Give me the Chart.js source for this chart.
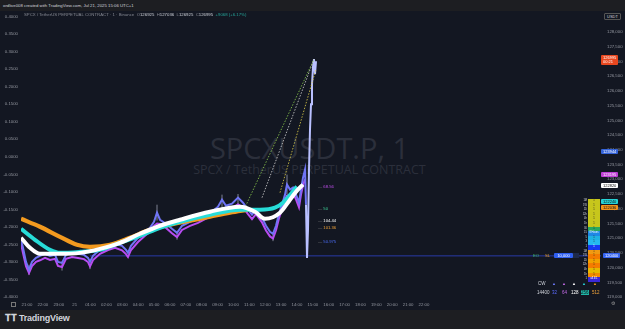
<!DOCTYPE html>
<html><head><meta charset="utf-8">
<script src="https://cdn.jsdelivr.net/npm/chart.js@4.4.1/dist/chart.umd.min.js"></script>
<style>
html,body{margin:0;padding:0;background:#131722;width:625px;height:329px;overflow:hidden;font-family:"Liberation Sans",Arial,sans-serif;}
.abs{position:absolute;white-space:nowrap;}
#top{left:0;top:0;width:625px;height:11px;background:#1d1e22;color:#d1d4dc;font-size:4.3px;line-height:11px;padding-left:3px;box-sizing:border-box;}
#bottom{left:0;top:310px;width:625px;height:19px;background:#1d1e22;}
#logo{left:5px;top:313px;color:#d1d4dc;font-size:9px;font-weight:bold;letter-spacing:-0.2px;}
#wrap{position:absolute;left:0;top:11px;width:625px;height:299px;}
#wm1{left:0;width:625px;top:128px;text-align:center;color:#2b2f3b;font-size:29px;font-family:"Open Sans","Liberation Sans",sans-serif;}
#wm1 span,#wm2 span{position:relative;left:-3px;}
#wm2{left:0;width:625px;top:161px;text-align:center;color:#2b2f3b;font-size:12.5px;font-family:"Open Sans","Liberation Sans",sans-serif;}
#hdr{left:24px;top:12px;color:#868993;font-size:4.3px;line-height:6px;}
#hdr b{color:#d1d4dc;font-weight:normal;}
.box{font-size:4px;line-height:5px;padding:0 2px;border-radius:1px;}
.lbl{font-size:4.2px;line-height:5px;}
.cell{position:absolute;left:588px;width:12px;font-size:2.6px;line-height:5px;color:#111;text-align:center;}
.cl{position:absolute;left:578px;width:9px;font-size:2.6px;line-height:5px;color:#d1d4dc;text-align:right;}
</style></head>
<body>
<div id="top" class="abs">ordlive008 created with TradingView.com, Jul 21, 2025 15:06 UTC+1</div>
<div id="wm1" class="abs"><span>SPCXUSDT.P, 1</span></div>
<div id="wm2" class="abs"><span>SPCX / TetherUS PERPETUAL CONTRACT</span></div>
<div id="wrap"><canvas id="c" width="625" height="299"></canvas></div>
<div id="hdr" class="abs">SPCX / TetherUS PERPETUAL CONTRACT · 1 · Binance &nbsp;O<b>126925</b> &nbsp;H<b>127036</b> &nbsp;L<b>126925</b> &nbsp;C<b>126995</b> &nbsp;<b style="color:#26a69a">+9068 (+6.17%)</b></div>
<div class="abs box" style="left:604px;top:13px;color:#d1d4dc;border:0.5px solid #555;background:#131722;">USDT</div>
<div id="bottom" class="abs"></div>
<div id="logo" class="abs">&#x1D413;&#x1D413; TradingView</div>
<div id="overlay"></div>
<script>
// ---------- data ----------
const timeLabels = ["21:00","22:00","23:00","21","01:00","02:00","03:00","04:00","05:00","06:00","07:00","08:00","09:00",
  "10:00","11:00","12:00","13:00","14:00","15:00","16:00","17:00","18:00","19:00","20:00","21:00","22:00"];
const leftTicks = [0.40,0.35,0.30,0.25,0.20,0.15,0.10,0.05,0.00,-0.05,-0.10,-0.15,-0.20,-0.25,-0.30,-0.35,-0.40];
const rightTicks = [128000,127500,127000,126500,126000,125500,125000,124500,124000,123500,123000,122500,122000,121500,121000,120500,120000,119500,119000];

const orangeX = [0,19,39,56,69,89,109,129,149,169,189,209,227];
const orangeY = [121661,121388,121048,120775,120707,120775,121014,121286,121457,121593,121729,121866,121968];

const cyanX = [0,14,29,39,59,79,99,119,139,159,189,219,239,254,262,271,276];
const cyanY = [121320,120946,120605,120502,120537,120605,120843,121082,121354,121559,121798,121968,121968,122036,122206,122547,122752];

const whiteX = [0,9,19,39,59,79,99,119,139,159,189,219,234,244,259,269,276,282];
const whiteY = [121014,120673,120468,120468,120502,120639,120843,121150,121423,121627,121900,122070,121900,121661,121866,122309,122615,122820];

const priceX = [0,2,5,8,11,15,19,24,29,34,37,41,45,51,57,63,67,69,72,79,87,94,101,105,107,110,117,124,129,133,136,139,145,151,156,161,169,177,184,191,197,201,205,211,217,222,227,231,235,241,245,249,252,255,258,261,264,266,269,272,275,278,280,282,284,285,286,287,288,289,290,291,292,293,294,295];
const priceY = [120946,120673,120196,119923,120196,120332,120400,120468,120400,120434,120196,120162,120434,120502,120468,120434,120332,120196,120400,120605,120741,120809,120741,120605,120502,120741,121014,121218,121354,121559,121866,121627,121491,121320,121184,121423,121559,121661,121798,121900,122070,122309,122104,122172,122377,122206,121968,121798,121968,121695,121423,121218,121150,121423,121832,122138,122479,122820,122650,122718,122479,122206,122650,123058,123331,122138,120332,121286,123331,124694,125546,126228,126807,127080,126568,127012];
const priceLowX = priceX.slice(0, 65);
const priceLowY = [120800,120500,120050,119820,120050,120200,120250,120330,120260,120300,120060,120020,120300,120360,120330,120290,120190,120040,120260,120470,120600,120670,120590,120460,120360,120600,120870,121080,121220,121420,121500,121480,121350,121170,121040,121280,121420,121520,121650,121760,121900,122000,121960,122030,122150,122050,121820,121650,121820,121540,121260,121060,120990,121270,121680,121990,122300,122450,122480,122550,122320,122050,122480,122800,123000];
// candle wicks: [x, low, high]
const wicks = [[8,119750,120100],[41,119900,120200],[69,119950,120250],[136,121600,122138],[156,120950,121250],[201,122000,122479],[217,122100,122500],[266,122500,123160],[252,120900,121200]];

const trendA = {x:[222,293], y:[121900,127080]};
const trendB = {x:[241,293], y:[122377,127080]};
const trendC = {x:[259,295], y:[122547,126739]};
const entryLine = {x:[69,580], y:[120400,120400]};

// ---------- build ----------
const pts = (xs, ys) => xs.map((x,i)=>({x, y: ys[i]}));
const wickPts = [];
wicks.forEach(w => { wickPts.push({x:w[0], y:w[1]}, {x:w[0], y:w[2]}, {x:w[0], y:null}); });
const ctx = document.getElementById('c').getContext('2d');
const fmt = v => v.toLocaleString('en-US');
const spikeStart = priceX.length - 11;

new Chart(ctx, {
  type: 'line',
  data: {
    datasets: [
      {label:'orange', data: pts(orangeX, orangeY), borderColor:'#f39a1f', borderWidth:4.2, pointRadius:0, tension:0.4, cubicInterpolationMode:'monotone', yAxisID:'y', order:3},
      {label:'cyan', data: pts(cyanX, cyanY), borderColor:'#27dcd8', borderWidth:4, pointRadius:0, tension:0.4, cubicInterpolationMode:'monotone', yAxisID:'y', order:2},
      {label:'white', data: pts(whiteX, whiteY), borderColor:'#ffffff', borderWidth:4, pointRadius:0, tension:0.4, cubicInterpolationMode:'monotone', yAxisID:'y', order:1},
      {label:'price', data: pts(priceX, priceY), borderColor:'#6f74f5', borderWidth:2, pointRadius:0, tension:0, yAxisID:'y', order:10,
        segment:{borderColor: c => c.p0DataIndex >= spikeStart ? '#b9c0ff' : undefined}},
      {label:'priceLow', data: pts(priceLowX, priceLowY), borderColor:'#b84cf2', borderWidth:2, pointRadius:0, tension:0, yAxisID:'y', order:11},
      {label:'wicks', data: wickPts, borderColor:'#9aa0b0', borderWidth:0.8, pointRadius:0, spanGaps:false, yAxisID:'y', order:12},
      {label:'tA', data: pts(trendA.x, trendA.y), borderColor:'#8fd14f', borderWidth:0.8, borderDash:[1.5,1.5], pointRadius:0, yAxisID:'y', order:5},
      {label:'tB', data: pts(trendB.x, trendB.y), borderColor:'#d8d8d8', borderWidth:0.8, borderDash:[1.5,1.5], pointRadius:0, yAxisID:'y', order:5},
      {label:'tC', data: pts(trendC.x, trendC.y), borderColor:'#e3d34a', borderWidth:0.8, borderDash:[1.5,1.5], pointRadius:0, yAxisID:'y', order:5},
      {label:'entry', data: pts(entryLine.x, entryLine.y), borderColor:'#2a3aa8', borderWidth:1, pointRadius:0, yAxisID:'y', order:20}
    ]
  },
  options: {
    responsive:false, animation:false, events:[],
    layout:{padding:0},
    plugins:{legend:{display:false}, tooltip:{enabled:false}},
    scales:{
      x:{type:'linear', min:0, max:580, position:'bottom',
        grid:{display:false, drawTicks:false}, border:{display:false},
        afterBuildTicks: s => { s.ticks = timeLabels.map((t,i)=>({value: 6 + i*15.88})); },
        afterFit: s => { s.height = 12; s.paddingLeft = 0; s.paddingRight = 0; },
        ticks:{autoSkip:false, maxRotation:0, padding:4, color:'#9598a1', font:{size:4.3},
          callback:(v,i)=> timeLabels[i]}},
      y:{type:'linear', position:'right', min:118969, max:128716,
        grid:{display:false, drawTicks:false}, border:{display:false},
        afterBuildTicks: s => { s.ticks = rightTicks.map(v=>({value:v})); },
        afterFit: s => { s.width = 24; s.paddingTop = 0; s.paddingBottom = 0; },
        ticks:{autoSkip:false, padding:6, color:'#9598a1', font:{size:4.3}, callback: v => fmt(v)}},
      yl:{type:'linear', position:'left', min:-0.4027, max:0.4158,
        grid:{display:false, drawTicks:false}, border:{display:false},
        afterBuildTicks: s => { s.ticks = leftTicks.map(v=>({value:v})); },
        afterFit: s => { s.width = 21; s.paddingTop = 0; s.paddingBottom = 0; },
        ticks:{autoSkip:false, padding:3, color:'#9598a1', font:{size:4.3}, callback: v => v.toFixed(4)}}
    }
  }
});

// ---------- overlays (labels / table) ----------
const ov = document.getElementById('overlay');
function add(html, style, cls){ const d=document.createElement('div'); d.className='abs '+(cls||''); d.innerHTML=html; d.style.cssText=style; ov.appendChild(d); return d; }
add('126995<br>00:21','left:601px;top:55px;background:#e8471f;color:#fff;line-height:4.5px;padding:0.5px 2px;','box');
add('123944','left:601px;top:149px;background:#3463d8;color:#fff;','box');
add('123195','left:601px;top:172px;background:#c03fd6;color:#fff;','box');
add('122820','left:601px;top:183px;background:#ffffff;color:#111;','box');
add('122240','left:601px;top:199px;background:#27d3d6;color:#111;','box');
add('122036','left:601px;top:205px;background:#f3931a;color:#111;','box');
add('120400','left:603px;top:253px;background:#3463f0;color:#fff;','box');
add('— <span style="color:#c24ff0">68.56</span>','left:318px;top:184px;color:#888;','lbl');
add('— <span style="color:#3fd29a">50</span>','left:318px;top:206px;color:#888;','lbl');
add('— <span style="color:#ffffff">104.44</span>','left:318px;top:218px;color:#888;','lbl');
add('— <span style="color:#f3a53a">101.36</span>','left:318px;top:225px;color:#888;','lbl');
add('— <span style="color:#4b6cf5">50.975</span>','left:318px;top:239px;color:#888;','lbl');
add('EO','left:533px;top:253px;color:#3fbf6a;','lbl');
add('SL','left:545px;top:253px;color:#f0a020;','lbl');
add('10,000','left:554px;top:252.5px;background:#2f5ff0;color:#fff;width:15px;text-align:center;','box');
add('','left:573px;top:252.5px;width:6px;height:5px;background:#1e2a4a;','');
const cells = [
 ['1M','#c7c61c','1'],['1W','#c7c61c','1'],['1D','#c7c61c','1'],['12h','#c7c61c','1'],['4h','#c7c61c','1'],['1h','#c7c61c','1'],
 ['30','#2aa860','1'],['15','#1e88e5','8 Hours'],['5','#1fb2e3','1'],['3','#25b9f0','1'],['1','#1638f2','1'],
 ['1M','#f19a12','1'],['1W','#f57c00','1'],['1D','#f2a100','1'],['12h','#f57c00','1'],['4h','#e6b800','1'],['1h','#f28b00','1'],['1','#3b28d8','all 4/1']
];
cells.forEach((c,i)=>{
  add(c[2],'top:'+(199+i*4.6)+'px;height:4.6px;line-height:4.6px;background:'+c[1]+';color:'+(c[1]==='#1638f2'||c[1]==='#3b28d8'||c[1]==='#1e88e5'?'#fff':'#222')+';','cell');
  add(c[0],'top:'+(199+i*4.6)+'px;height:4.6px;line-height:4.6px;','cl');
});
add('CW','left:538px;top:281px;color:#d1d4dc;font-size:4.5px;','');
const tri = [['#6d7cff',553],['#c46ae8',563],['#ffffff',573],['#27d3d6',583],['#f3931a',594]];
tri.forEach(t=> add('▲','left:'+(t[1]-1)+'px;top:281px;color:'+t[0]+';font-size:4px;',''));
add('14400','left:537px;top:290px;color:#d1d4dc;font-size:4.5px;','');
add('32','left:552px;top:290px;color:#5c6cff;font-size:4.5px;','');
add('64','left:562px;top:290px;color:#c46ae8;font-size:4.5px;','');
add('128','left:571px;top:290px;color:#ffffff;font-size:4.5px;','');
add('256','left:581px;top:290px;color:#111;background:#1fb5a8;font-size:4.5px;','');
add('512','left:592px;top:290px;color:#f3a53a;font-size:4.5px;','');
add('','left:11px;top:302px;width:5px;height:5px;border:0.6px solid #777;box-sizing:border-box;','');
add('⚙','left:611px;top:300px;color:#999;font-size:5px;','');
</script>
</body></html>
